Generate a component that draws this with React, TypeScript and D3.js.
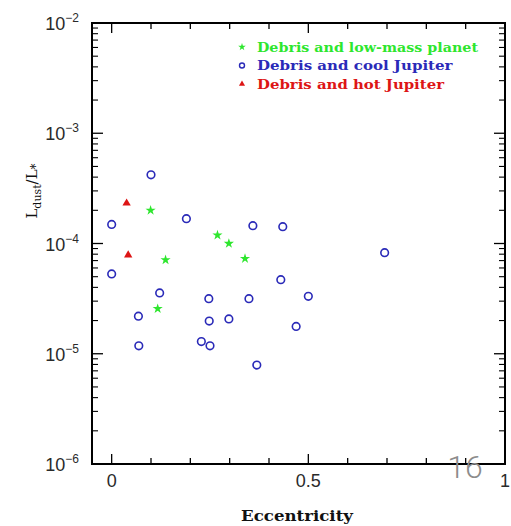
import * as d3 from "d3";

// Debris and cool Jupiter (blue circles)
const coolEcc = [0.1, 0.19, 0.0, 0.0, 0.122, 0.247, 0.068, 0.248, 0.228, 0.25, 0.069, 0.359, 0.435, 0.43, 0.349, 0.5, 0.298, 0.469, 0.369, 0.694];
const coolLum = [4.2e-4, 1.68e-4, 1.49e-4, 5.3e-5, 3.56e-5, 3.16e-5, 2.19e-5, 1.98e-5, 1.29e-5, 1.18e-5, 1.18e-5, 1.45e-4, 1.42e-4, 4.7e-5, 3.16e-5, 3.32e-5, 2.07e-5, 1.77e-5, 7.9e-6, 8.25e-5];

// Debris and low-mass planet (green stars)
const lowEcc = [0.099, 0.269, 0.137, 0.117, 0.298, 0.339];
const lowLum = [2.0e-4, 1.19e-4, 7.1e-5, 2.56e-5, 1.0e-4, 7.3e-5];

// Debris and hot Jupiter (red triangles)
const hotEcc = [0.038, 0.042];
const hotLum = [2.32e-4, 7.86e-5];

const legendLabels = ["Debris and low-mass planet", "Debris and cool Jupiter", "Debris and hot Jupiter"];
const xTickLabels = ["0", "0.5", "1"];
const yExponents = [-2, -3, -4, -5, -6];

const green = "#2ee62e";
const blue = "#2a2ab8";
const red = "#dd1515";

const App = () => {
    const width = 511;
    const height = 526;
    // plot frame
    const left = 92, right = 505, top = 23, bottom = 464;

    const x = d3.scaleLinear().domain([-0.05, 1]).range([left, right]);
    const y = d3.scaleLog().domain([1e-6, 1e-2]).range([bottom, top]);

    const star = d3.symbol().type(d3.symbolStar).size(32)();
    const tri = d3.symbol().type(d3.symbolTriangle).size(30)();

    const xMinor = d3.range(0, 11).map(i => i / 10);
    const yMajor = yExponents.map(e => Math.pow(10, e));
    const yMinor: number[] = [];
    for (let e = -6; e < -2; e++) {
        for (let m = 2; m <= 9; m++) yMinor.push(m * Math.pow(10, e));
    }

    const serif = "'DejaVu Serif', 'Liberation Serif', serif";
    const sans = "'Liberation Sans', Arial, sans-serif";
    // legend widths (8.5px per character)
    const legendWidths = legendLabels.map(l => l.length * 8.5);

    return (
        <svg width={width} height={height} style={{position: "absolute", left: 0, top: 0, background: "#fff"}}>
            {/* x ticks, bottom and top */}
            {xMinor.map((v, i) => {
                const major = i % 5 === 0;
                const len = major ? 10 : 6;
                return (
                    <g key={"xt" + i} stroke="#000" strokeWidth={1.3}>
                        <line x1={x(v)} x2={x(v)} y1={bottom} y2={bottom - len} />
                        <line x1={x(v)} x2={x(v)} y1={top} y2={top + len} />
                    </g>
                );
            })}
            {/* y ticks, left and right */}
            {yMajor.map((v, i) => (
                <g key={"yM" + i} stroke="#000" strokeWidth={1.3}>
                    <line x1={left} x2={left + 11} y1={y(v)} y2={y(v)} />
                    <line x1={right} x2={right - 11} y1={y(v)} y2={y(v)} />
                </g>
            ))}
            {yMinor.map((v, i) => (
                <g key={"ym" + i} stroke="#000" strokeWidth={1.1}>
                    <line x1={left} x2={left + 6} y1={y(v)} y2={y(v)} />
                    <line x1={right} x2={right - 6} y1={y(v)} y2={y(v)} />
                </g>
            ))}
            <rect x={left} y={top} width={right - left} height={bottom - top} fill="none" stroke="#000" strokeWidth={2} />

            {/* x tick labels */}
            {xTickLabels.map(t => (
                <text key={t} x={x(+t)} y={487} textAnchor="middle" fontFamily={sans} fontSize={18} fill="#2a2a2a">{t}</text>
            ))}
            {/* y tick labels */}
            {yExponents.map(e => (
                <text key={e} x={79} y={y(Math.pow(10, e)) + 7} textAnchor="end" fontFamily={sans} fontSize={18} fill="#2a2a2a">
                    10<tspan dy={-8} fontSize={12}>{"\u2212" + Math.abs(e)}</tspan>
                </text>
            ))}

            {/* axis titles */}
            <text x={241} y={521} textLength={112} lengthAdjust="spacingAndGlyphs" fontFamily={serif} fontWeight="bold" fontSize={14} fill="#111">Eccentricity</text>
            <text transform="translate(37,191) rotate(-90)" textAnchor="middle" fontFamily={serif} fontSize={15} fill="#111">
                L<tspan dy={4} fontSize={11}>dust</tspan><tspan dy={-4}>/L</tspan><tspan dy={3} fontSize={12}>*</tspan>
            </text>

            {/* data */}
            {coolEcc.map((e, i) => (
                <circle key={"c" + i} cx={x(e)} cy={y(coolLum[i])} r={3.8} fill="none" stroke={blue} strokeWidth={1.6} />
            ))}
            {lowEcc.map((e, i) => (
                <path key={"s" + i} d={star} transform={`translate(${x(e)},${y(lowLum[i])})`} fill={green} />
            ))}
            {hotEcc.map((e, i) => (
                <path key={"t" + i} d={tri} transform={`translate(${x(e)},${y(hotLum[i])})`} fill={red} />
            ))}

            {/* legend */}
            <path d={d3.symbol().type(d3.symbolStar).size(18)()} transform="translate(242,47)" fill={green} />
            <circle cx={242} cy={65.5} r={2.5} fill="none" stroke={blue} strokeWidth={1.4} />
            <path d={d3.symbol().type(d3.symbolTriangle).size(16)()} transform="translate(242,84)" fill={red} />
            {legendLabels.map((l, i) => (
                <text key={l} x={257} y={51.5 + i * 18.5} textLength={legendWidths[i]} lengthAdjust="spacingAndGlyphs"
                      fontFamily={serif} fontWeight="bold" fontSize={13} fill={[green, blue, red][i]}>{l}</text>
            ))}

            {/* page number watermark */}
            <text x={465} y={478} textAnchor="middle" fontFamily="Roboto, sans-serif" fontWeight={300} fontSize={32} fill="#8c8c8c">16</text>
        </svg>
    );
};

export default App;
